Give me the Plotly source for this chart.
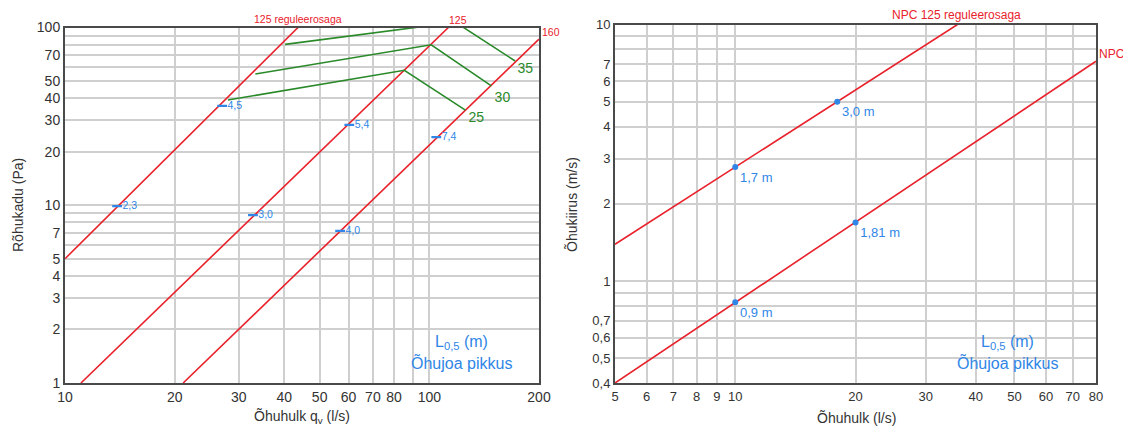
import math
import plotly.graph_objects as go

# ---------------- Data: left chart (pressure drop vs air flow) ----------------
left_line_names = ["125 reguleerosaga", "125", "160"]
left_line_q = [[10, 43.6], [11.06, 112.8], [21.1, 200]]
left_line_p = [[5, 100], [1, 100], [1, 86]]

noise_levels = ["25", "30", "35"]
noise_q = [[28.0, 85.4, 125.6], [33.3, 101.2, 148.0], [40.2, 118.0, 172.0]]
noise_p = [[39.1, 57.5, 34.3], [54.7, 80.0, 46.9], [80.4, 107.0, 64.8]]
noise_label_q = [134.6, 158.7, 183.5]
noise_label_p = [30.6, 40.1, 57.7]

left_mark_labels = ["2,3", "4,5", "3,0", "5,4", "4,0", "7,4"]
left_mark_q = [13.9, 27.0, 32.8, 60.3, 56.9, 104.5]
left_mark_p = [9.9, 36.2, 8.8, 28.3, 7.17, 24.2]

left_x_ticks = [10, 20, 30, 40, 50, 60, 70, 80, 90, 100, 200]
left_x_labels = ["10", "20", "30", "40", "50", "60", "70", "80", "", "100", "200"]
left_y_ticks = [1, 2, 3, 4, 5, 6, 7, 8, 9, 10, 20, 30, 40, 50, 60, 70, 80, 90, 100]
left_y_labels = ["1", "2", "3", "4", "5", "", "7", "", "", "10", "20", "30", "40",
                 "50", "", "70", "", "", "100"]

# ---------------- Data: right chart (air velocity vs air flow) ----------------
right_line_names = ["NPC 125 reguleerosaga", "NPC 160"]
right_line_q = [[5, 36.0], [5, 80]]
right_line_v = [[1.39, 10], [0.4, 7.19]]

right_mark_labels = ["1,7 m", "3,0 m", "0,9 m", "1,81 m"]
right_mark_q = [10, 18.0, 10, 20]
right_mark_v = [2.78, 5.0, 0.826, 1.69]

right_x_ticks = [5, 6, 7, 8, 9, 10, 20, 30, 40, 50, 60, 70, 80]
right_x_labels = ["5", "6", "7", "8", "9", "10", "20", "30", "40", "50", "60", "70", "80"]
right_y_ticks = [0.4, 0.5, 0.6, 0.7, 0.8, 0.9, 1, 2, 3, 4, 5, 6, 7, 8, 9, 10]
right_y_labels = ["0,4", "0,5", "0,6", "0,7", "", "", "1", "2", "3", "4", "5", "6", "7",
                  "", "", "10"]

# ---------------- Styling ----------------
W, H = 1123, 430
RED = "#e8212b"
GREEN = "#2a8a2a"
BLUE = "#2f86e6"
GRID = "#cfcfcf"
FRAME = "#4a4a4a"
TXT = "#333333"
FONT = "Liberation Sans, Arial, sans-serif"

def px_x(p):
    return p / W

def px_y(p):
    return (H - p) / H

fig = go.Figure()

# Left chart red lines
for q, p in zip(left_line_q, left_line_p):
    fig.add_trace(go.Scatter(x=q, y=p, mode="lines", line=dict(color=RED, width=1.6),
                             xaxis="x", yaxis="y", hoverinfo="skip", showlegend=False))
# Noise level lines
for q, p in zip(noise_q, noise_p):
    fig.add_trace(go.Scatter(x=q, y=p, mode="lines", line=dict(color=GREEN, width=1.6),
                             xaxis="x", yaxis="y", hoverinfo="skip", showlegend=False))
fig.add_trace(go.Scatter(x=noise_label_q, y=noise_label_p, mode="text", text=noise_levels,
                         textfont=dict(color=GREEN, size=14, family=FONT),
                         xaxis="x", yaxis="y", hoverinfo="skip", showlegend=False, cliponaxis=False))
# Blue dash markers
fig.add_trace(go.Scatter(x=left_mark_q, y=left_mark_p, mode="markers+text", text=left_mark_labels,
                         textposition="middle right",
                         textfont=dict(color=BLUE, size=10.5, family=FONT),
                         marker=dict(symbol="line-ew", size=7, line=dict(color=BLUE, width=2.2)),
                         xaxis="x", yaxis="y", hoverinfo="skip", showlegend=False))

# Right chart red lines
for q, v in zip(right_line_q, right_line_v):
    fig.add_trace(go.Scatter(x=q, y=v, mode="lines", line=dict(color=RED, width=1.6),
                             xaxis="x2", yaxis="y2", hoverinfo="skip", showlegend=False))
fig.add_trace(go.Scatter(x=right_mark_q, y=right_mark_v, mode="markers+text", text=right_mark_labels,
                         textposition="bottom right",
                         textfont=dict(color=BLUE, size=13, family=FONT),
                         marker=dict(symbol="circle", size=6, color=BLUE),
                         xaxis="x2", yaxis="y2", hoverinfo="skip", showlegend=False))

axis_common = dict(type="log", showgrid=True, gridcolor=GRID, gridwidth=1.5,
                   showline=True, linecolor=FRAME, linewidth=2, mirror=True,
                   ticks="", zeroline=False, automargin=False, tickmode="array",
                   tickfont=dict(family=FONT, color=TXT))

fig.update_layout(
    width=W, height=H,
    margin=dict(l=0, r=0, t=0, b=0),
    paper_bgcolor="white", plot_bgcolor="white",
    showlegend=False,
    font=dict(family=FONT, color=TXT),
    xaxis=dict(axis_common, domain=[px_x(65), px_x(539)], anchor="y",
               range=[math.log10(10), math.log10(200)],
               tickvals=left_x_ticks, ticktext=left_x_labels, tickfont=dict(size=14, family=FONT, color=TXT)),
    yaxis=dict(axis_common, domain=[px_y(383), px_y(27.5)], anchor="x",
               range=[0, 2], tickvals=left_y_ticks, ticktext=left_y_labels,
               tickfont=dict(size=14, family=FONT, color=TXT)),
    xaxis2=dict(axis_common, domain=[px_x(615), px_x(1096)], anchor="y2",
                range=[math.log10(5), math.log10(80)],
                tickvals=right_x_ticks, ticktext=right_x_labels, tickfont=dict(size=13, family=FONT, color=TXT)),
    yaxis2=dict(axis_common, domain=[px_y(383), px_y(24.5)], anchor="x2",
                range=[math.log10(0.4), 1], tickvals=right_y_ticks, ticktext=right_y_labels,
                tickfont=dict(size=13, family=FONT, color=TXT)),
)

ann = []
# Left top red labels
ann.append(dict(x=math.log10(left_line_q[0][1]), y=2, xref="x", yref="y", text=left_line_names[0],
                showarrow=False, xanchor="center", yanchor="bottom", yshift=0,
                font=dict(color=RED, size=10.5, family=FONT)))
ann.append(dict(x=math.log10(120.2), y=2, xref="x", yref="y", text=left_line_names[1],
                showarrow=False, xanchor="center", yanchor="bottom",
                font=dict(color=RED, size=10.5, family=FONT)))
ann.append(dict(x=math.log10(200), y=math.log10(94.4), xref="x", yref="y", text=left_line_names[2],
                showarrow=False, xanchor="left", yanchor="middle", xshift=1,
                font=dict(color=RED, size=10.5, family=FONT)))
# Right top red labels
ann.append(dict(x=math.log10(35.9), y=1, xref="x2", yref="y2", text=right_line_names[0],
                showarrow=False, xanchor="center", yanchor="bottom",
                font=dict(color=RED, size=12, family=FONT)))
ann.append(dict(x=math.log10(80), y=math.log10(7.67), xref="x2", yref="y2", text=right_line_names[1],
                showarrow=False, xanchor="left", yanchor="middle", xshift=1,
                font=dict(color=RED, size=12, family=FONT)))
# Blue captions
for cx in (461.5, 1008):
    ann.append(dict(x=px_x(cx), y=px_y(342), xref="paper", yref="paper",
                    text="L<sub>0,5</sub> (m)", showarrow=False, xanchor="center", yanchor="middle",
                    font=dict(color=BLUE, size=16, family=FONT)))
    ann.append(dict(x=px_x(cx), y=px_y(362), xref="paper", yref="paper",
                    text="Õhujoa pikkus", showarrow=False, xanchor="center", yanchor="middle",
                    font=dict(color=BLUE, size=16, family=FONT)))
# Axis titles
ann.append(dict(x=px_x(302), y=px_y(417), xref="paper", yref="paper",
                text="Õhuhulk q<sub>v</sub> (l/s)", showarrow=False, xanchor="center", yanchor="middle",
                font=dict(color=TXT, size=14, family=FONT)))
ann.append(dict(x=px_x(856), y=px_y(418), xref="paper", yref="paper",
                text="Õhuhulk (l/s)", showarrow=False, xanchor="center", yanchor="middle",
                font=dict(color=TXT, size=14, family=FONT)))
ann.append(dict(x=px_x(18), y=px_y(205), xref="paper", yref="paper",
                text="Rõhukadu (Pa)", showarrow=False, textangle=-90, xanchor="center", yanchor="middle",
                font=dict(color=TXT, size=14, family=FONT)))
ann.append(dict(x=px_x(572), y=px_y(205), xref="paper", yref="paper",
                text="Õhukiirus (m/s)", showarrow=False, textangle=-90, xanchor="center", yanchor="middle",
                font=dict(color=TXT, size=14, family=FONT)))

fig.update_layout(annotations=ann)
fig.write_html("out.html", config={"displayModeBar": False},
               post_script="document.body.style.margin='0';document.body.style.overflow='hidden';")
